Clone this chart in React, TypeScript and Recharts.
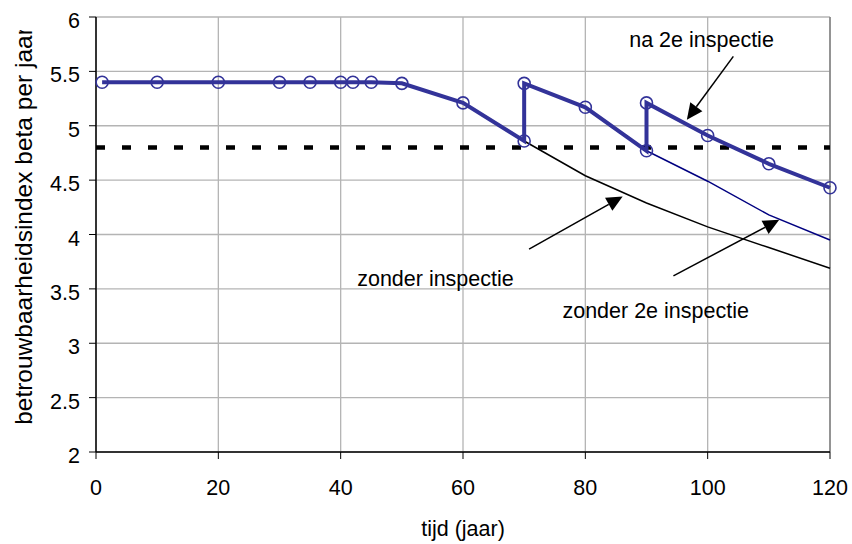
import React from 'react';
import {
  LineChart,
  Line,
  XAxis,
  YAxis,
  CartesianGrid,
  ReferenceLine,
  ReferenceDot,
} from 'recharts';

// beta over time with the inspection jumps at 70 and 90 years
const mainYears = [1, 10, 20, 30, 35, 40, 42, 45, 50, 60, 70, 70, 80, 90, 90, 100, 110, 120];
const mainBeta = [5.4, 5.4, 5.4, 5.4, 5.4, 5.4, 5.4, 5.4, 5.39, 5.21, 4.86, 5.39, 5.17, 4.77, 5.21, 4.91, 4.65, 4.43];

// without any inspection
const noInspYears = [70, 80, 90, 100, 110, 120];
const noInspBeta = [4.86, 4.54, 4.29, 4.07, 3.88, 3.69];

// without the second inspection
const no2ndYears = [90, 100, 110, 120];
const no2ndBeta = [4.77, 4.49, 4.18, 3.95];

const targetBeta = 4.8;

const xTicks = [0, 20, 40, 60, 80, 100, 120];
const yTicks = [2, 2.5, 3, 3.5, 4, 4.5, 5, 5.5, 6];

// annotation texts and arrows: [x, y] in chart units
const notes = [
  { text: 'na 2e inspectie', at: [99.0, 5.72], tail: [104.2, 5.638], tip: [96.6, 5.056] },
  { text: 'zonder inspectie', at: [55.5, 3.53], tail: [70.8, 3.866], tip: [86.1, 4.35] },
  { text: 'zonder 2e inspectie', at: [91.5, 3.23], tail: [94.4, 3.62], tip: [111.7, 4.135] },
];

const toPoints = (xs: number[], ys: number[]) => xs.map((x, i) => ({ x, y: ys[i] }));

const mainData = toPoints(mainYears, mainBeta);
const noInspData = toPoints(noInspYears, noInspBeta);
const no2ndData = toPoints(no2ndYears, no2ndBeta);

const FONT = '"Liberation Sans", Arial, sans-serif';
const BLUE = '#333399';

// line with a filled triangular head at the end point
const Arrow = (props: any) => {
  const { x1, y1, x2, y2 } = props;
  const ang = Math.atan2(y2 - y1, x2 - x1);
  const len = 16;
  const half = 7.5;
  const bx = x2 - len * Math.cos(ang);
  const by = y2 - len * Math.sin(ang);
  const px = -Math.sin(ang) * half;
  const py = Math.cos(ang) * half;
  return (
    <g>
      <line x1={x1} y1={y1} x2={bx} y2={by} stroke="#000" strokeWidth={1.5} />
      <polygon points={`${x2},${y2} ${bx + px},${by + py} ${bx - px},${by - py}`} fill="#000" />
    </g>
  );
};

const XTick = (props: any) => (
  <text x={props.x} y={props.y + 15} textAnchor="middle" fontFamily={FONT} fontSize={21.5} fill="#000">
    {props.payload.value}
  </text>
);

const YTick = (props: any) => (
  <text x={props.x} y={props.y + 11} textAnchor="end" fontFamily={FONT} fontSize={21.5} fill="#000">
    {props.payload.value}
  </text>
);

export default function App() {
  return (
    <div style={{ position: 'absolute', left: 0, top: 0, width: 852, height: 544, background: '#fff' }}>
      <LineChart width={852} height={544} margin={{ top: 17, right: 22, bottom: 62, left: 36 }}>
        <CartesianGrid stroke="#b4b4b4" strokeWidth={1.3} />
        <XAxis
          type="number"
          dataKey="x"
          domain={[0, 120]}
          ticks={xTicks}
          height={30}
          tickSize={7}
          tickMargin={21}
          tick={<XTick />}
          axisLine={{ stroke: '#000', strokeWidth: 1.5 }}
          tickLine={{ stroke: '#000', strokeWidth: 1 }}
          label={{
            value: 'tijd (jaar)',
            position: 'bottom',
            offset: 39,
            fontFamily: FONT,
            fontSize: 21.5,
            fill: '#000',
          }}
        />
        <YAxis
          type="number"
          domain={[2, 6]}
          ticks={yTicks}
          width={60}
          tickSize={7}
          tickMargin={9}
          tick={<YTick />}
          axisLine={{ stroke: '#000', strokeWidth: 1.5 }}
          tickLine={{ stroke: '#000', strokeWidth: 1 }}
        />
        <ReferenceLine x={120} stroke="#808080" strokeWidth={1.5} />
        <ReferenceLine y={targetBeta} stroke="#000" strokeWidth={4.5} strokeDasharray="9 17" />
        <Line
          data={noInspData}
          dataKey="y"
          stroke="#000"
          strokeWidth={1.5}
          dot={false}
          activeDot={false}
          isAnimationActive={false}
        />
        <Line
          data={no2ndData}
          dataKey="y"
          stroke="#000080"
          strokeWidth={1.5}
          dot={false}
          activeDot={false}
          isAnimationActive={false}
        />
        <Line
          data={mainData}
          dataKey="y"
          stroke={BLUE}
          strokeWidth={4}
          dot={{ r: 6, stroke: BLUE, strokeWidth: 1.6, fill: 'none' }}
          activeDot={false}
          isAnimationActive={false}
        />
        {notes.map((n) => (
          <ReferenceLine
            key={`arrow-${n.text}`}
            segment={[
              { x: n.tail[0], y: n.tail[1] },
              { x: n.tip[0], y: n.tip[1] },
            ]}
            shape={<Arrow />}
          />
        ))}
        {notes.map((n) => (
          <ReferenceDot
            key={`note-${n.text}`}
            x={n.at[0]}
            y={n.at[1]}
            r={0}
            shape={(p: any) => (
              <text x={p.cx} y={p.cy} textAnchor="middle" fontFamily={FONT} fontSize={21.5} fill="#000">
                {n.text}
              </text>
            )}
          />
        ))}
      </LineChart>
      {/* y-axis title, cut off at the top edge of the chart frame */}
      <svg
        width={852}
        height={544}
        style={{ position: 'absolute', left: 0, top: 0, pointerEvents: 'none' }}
      >
        <defs>
          <clipPath id="ytitle-clip">
            <rect x={0} y={30} width={60} height={480} />
          </clipPath>
        </defs>
        <g clipPath="url(#ytitle-clip)">
          <text
            transform="translate(32, 226) rotate(-90)"
            textAnchor="middle"
            fontFamily={FONT}
            fontSize={24.5}
            fill="#000"
          >
            betrouwbaarheidsindex beta per jaar
          </text>
        </g>
      </svg>
    </div>
  );
}
